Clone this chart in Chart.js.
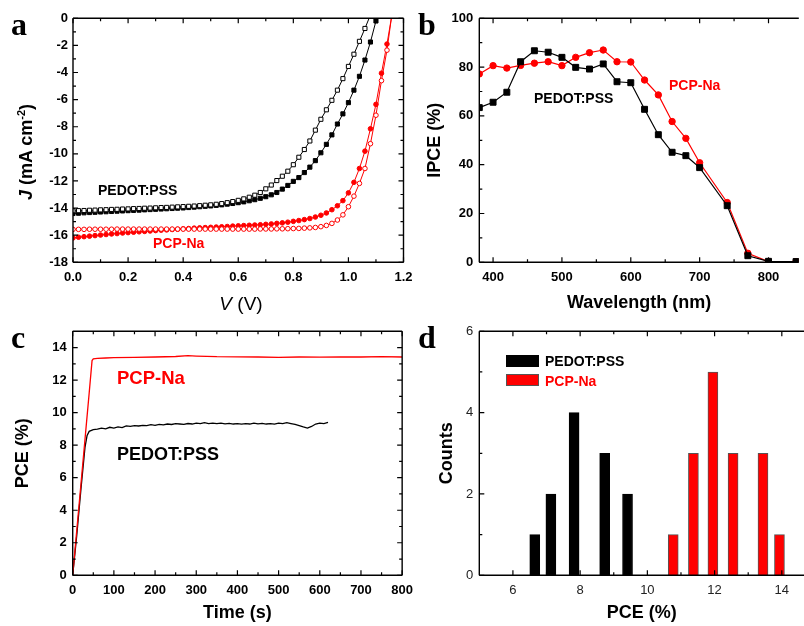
<!DOCTYPE html>
<html><head><meta charset="utf-8">
<script src="https://cdn.jsdelivr.net/npm/chart.js@4.4.1/dist/chart.umd.min.js"></script>
<style>
html,body{margin:0;padding:0;background:#fff;width:804px;height:626px;overflow:hidden;font-family:"Liberation Sans",Arial,sans-serif;}
canvas{position:absolute;}
.t{position:absolute;white-space:nowrap;line-height:1;font-family:"Liberation Sans",Arial,sans-serif;}
.b{font-weight:bold;}
.red{color:#ff0000;}
.letter{position:absolute;font-family:"Liberation Serif","Times New Roman",serif;font-weight:bold;font-size:32px;line-height:1;}
.box{position:absolute;width:33px;height:12px;}
</style></head><body>
<canvas id="ca" width="420" height="313" style="left:0;top:0"></canvas>
<canvas id="cb" width="402" height="313" style="left:402px;top:0"></canvas>
<canvas id="cc" width="420" height="313" style="left:0;top:313px"></canvas>
<canvas id="cd" width="402" height="313" style="left:402px;top:313px"></canvas>

<div class="letter" style="left:11px;top:8px">a</div>
<div class="letter" style="left:418px;top:8px">b</div>
<div class="letter" style="left:11px;top:321px">c</div>
<div class="letter" style="left:418px;top:321px">d</div>

<div class="t b" style="left:98px;top:183px;font-size:14px">PEDOT:PSS</div>
<div class="t b red" style="left:153px;top:236px;font-size:14px">PCP-Na</div>
<div class="t" style="left:241px;top:294px;font-size:19px;transform:translateX(-50%)"><i>V</i> (V)</div>
<div class="t b" style="left:26px;top:152px;font-size:18px;transform:translate(-50%,-50%) rotate(-90deg)"><i>J</i> (mA cm<span style="font-size:11px;position:relative;top:-7px">-2</span>)</div>

<div class="t b" style="left:534px;top:91px;font-size:14px">PEDOT:PSS</div>
<div class="t b red" style="left:669px;top:78px;font-size:14px">PCP-Na</div>

<div class="t b red" style="left:117px;top:369px;font-size:18.5px">PCP-Na</div>
<div class="t b" style="left:117px;top:445px;font-size:18px">PEDOT:PSS</div>

<div class="box" style="left:506px;top:355px;background:#000"></div>
<div class="box" style="left:506px;top:374px;background:#ff0000;box-shadow:inset 0 0 0 1px #555"></div>
<div class="t b" style="left:545px;top:354px;font-size:14px">PEDOT:PSS</div>
<div class="t b red" style="left:545px;top:374px;font-size:14px">PCP-Na</div>

<script>
// ---------- Panel a: J-V curves ----------
const voltage = [0.00,0.02,0.04,0.06,0.08,0.10,0.12,0.14,0.16,0.18,0.20,0.22,0.24,0.26,0.28,0.30,0.32,0.34,0.36,0.38,0.40,0.42,0.44,0.46,0.48,0.50,0.52,0.54,0.56,0.58,0.60,0.62,0.64,0.66,0.68,0.70,0.72,0.74,0.76,0.78,0.80,0.82,0.84,0.86,0.88,0.90,0.92,0.94,0.96,0.98,1.00,1.02,1.04,1.06,1.08,1.10,1.12,1.14,1.16];
const jPedotOpen = [-14.20,-14.19,-14.18,-14.16,-14.15,-14.13,-14.12,-14.10,-14.09,-14.07,-14.06,-14.04,-14.03,-14.01,-14.00,-13.98,-13.96,-13.95,-13.93,-13.91,-13.89,-13.87,-13.85,-13.82,-13.79,-13.76,-13.72,-13.67,-13.60,-13.52,-13.43,-13.32,-13.20,-13.05,-12.85,-12.58,-12.30,-11.97,-11.65,-11.28,-10.80,-10.25,-9.68,-9.05,-8.25,-7.45,-6.75,-6.05,-5.30,-4.45,-3.55,-2.65,-1.70,-0.75,0.25];
const jPedotFilled = [-14.40,-14.38,-14.35,-14.33,-14.31,-14.29,-14.27,-14.25,-14.23,-14.21,-14.19,-14.17,-14.15,-14.13,-14.11,-14.09,-14.07,-14.05,-14.03,-14.01,-13.99,-13.96,-13.93,-13.90,-13.87,-13.84,-13.80,-13.76,-13.71,-13.66,-13.60,-13.54,-13.46,-13.38,-13.28,-13.16,-13.02,-12.85,-12.60,-12.33,-12.03,-11.75,-11.38,-10.98,-10.50,-9.92,-9.30,-8.60,-7.80,-7.05,-6.22,-5.30,-4.28,-3.08,-1.75,-0.20,1.20];
const jPcpFilled = [-16.20,-16.15,-16.11,-16.07,-16.03,-15.99,-15.95,-15.91,-15.88,-15.84,-15.81,-15.78,-15.75,-15.72,-15.69,-15.66,-15.63,-15.61,-15.58,-15.56,-15.53,-15.51,-15.48,-15.46,-15.44,-15.42,-15.40,-15.38,-15.36,-15.33,-15.31,-15.29,-15.27,-15.25,-15.23,-15.20,-15.17,-15.13,-15.09,-15.04,-14.98,-14.92,-14.85,-14.77,-14.66,-14.53,-14.36,-14.12,-13.83,-13.45,-12.88,-12.10,-11.08,-9.80,-8.15,-6.35,-4.05,-1.90,0.50];
const jPcpOpen = [-15.57,-15.57,-15.57,-15.56,-15.56,-15.56,-15.56,-15.56,-15.55,-15.55,-15.55,-15.55,-15.55,-15.55,-15.55,-15.55,-15.55,-15.55,-15.55,-15.55,-15.55,-15.55,-15.55,-15.55,-15.55,-15.55,-15.55,-15.55,-15.55,-15.55,-15.55,-15.55,-15.55,-15.55,-15.54,-15.54,-15.54,-15.53,-15.53,-15.52,-15.51,-15.50,-15.48,-15.46,-15.43,-15.37,-15.28,-15.13,-14.88,-14.50,-13.90,-13.12,-12.18,-11.08,-9.25,-7.15,-4.60,-2.35,0.60];
const aXTicks = [0,0.2,0.4,0.6,0.8,1.0,1.2];
const aXMinor = [0.1,0.3,0.5,0.7,0.9,1.1];
const aYTicks = [-18,-16,-14,-12,-10,-8,-6,-4,-2,0];
const aYMinor = [-17,-15,-13,-11,-9,-7,-5,-3,-1];

// ---------- Panel b: IPCE ----------
const wavelength = [380,400,420,440,460,480,500,520,540,560,580,600,620,640,660,680,700,740,770,800,840];
const ipcePedot = [63.4,65.6,69.7,82.2,86.7,86.1,84.0,79.9,79.2,81.3,74.0,73.6,62.7,52.3,45.1,43.7,38.8,23.2,2.7,0.4,0.3];
const ipcePcp = [77.2,80.6,79.6,80.7,81.6,82.2,80.6,84.0,85.9,87.0,82.2,82.1,74.7,68.6,57.7,50.8,40.8,24.5,3.7,0.3,0.3];
const bXTicks = [400,500,600,700,800];
const bXMinor = [450,550,650,750];
const bYTicks = [0,20,40,60,80,100];
const bYMinor = [10,30,50,70,90];

// ---------- Panel c: PCE vs time ----------
const timePedot = [0,10,20,30,35,40,50,60,70,80,90,100,110,120,130,140,150,160,170,180,190,200,210,220,230,240,250,260,270,280,290,300,310,320,330,340,350,360,370,380,390,400,410,420,430,440,450,460,470,480,490,500,510,520,530,540,550,560,570,580,590,600,610,620];
const pcePedot = [0,2.5,5.3,7.9,8.6,8.85,8.95,8.98,9.05,9.0,9.1,9.05,9.12,9.08,9.18,9.15,9.2,9.18,9.22,9.2,9.26,9.22,9.28,9.25,9.3,9.27,9.32,9.3,9.28,9.33,9.3,9.36,9.32,9.38,9.33,9.36,9.32,9.35,9.31,9.34,9.3,9.33,9.29,9.32,9.3,9.36,9.31,9.34,9.3,9.33,9.29,9.36,9.32,9.38,9.33,9.28,9.2,9.12,9.05,9.15,9.3,9.36,9.33,9.4];
const timePcp = [0,10,20,30,40,47,50,60,80,100,150,200,250,280,300,350,400,450,500,550,600,650,700,750,800];
const pcePcp = [0,2.8,5.6,8.4,11.2,13.2,13.3,13.33,13.36,13.38,13.4,13.42,13.45,13.5,13.48,13.44,13.43,13.42,13.4,13.42,13.41,13.43,13.42,13.44,13.42];
const cXTicks = [0,100,200,300,400,500,600,700,800];
const cXMinor = [50,150,250,350,450,550,650,750];
const cYTicks = [0,2,4,6,8,10,12,14];
const cYMinor = [1,3,5,7,9,11,13];

// ---------- Panel d: histogram ----------
const histPcePedot = [6.65,7.13,7.82,8.73,9.41];
const histCountPedot = [1,2,4,3,2];
const histPcePcp = [10.77,11.37,11.95,12.55,13.44,13.93];
const histCountPcp = [1,3,5,3,3,1];
const dXTicks = [6,8,10,12,14];
const dXMinor = [7,9,11,13];
const dYTicks = [0,2,4,6];
const dYMinor = [1,3,5];

const FAM = "'Liberation Sans', Arial, sans-serif";
const RED = '#ff0000';

const framePlugin = {
  id: 'frame',
  afterDatasetsDraw(chart, args, o) {
    const {ctx, chartArea: {left, right, top, bottom}, scales: {x, y}} = chart;
    ctx.save();
    ctx.strokeStyle = '#000';
    ctx.lineWidth = 1.2;
    ctx.beginPath();
    const seg = (x1, y1, x2, y2) => { ctx.moveTo(x1, y1); ctx.lineTo(x2, y2); };
    const xt = (vals, len) => vals.forEach(v => { const p = x.getPixelForValue(v); seg(p, bottom, p, bottom - len); seg(p, top, p, top + len); });
    const yt = (vals, len) => vals.forEach(v => { const p = y.getPixelForValue(v); seg(left, p, left + len, p); if (o.right) seg(right, p, right - len, p); });
    xt(o.xMajor || [], 5); xt(o.xMinor || [], 3);
    yt(o.yMajor || [], 5); yt(o.yMinor || [], 3);
    ctx.stroke();
    ctx.lineWidth = 1.4;
    ctx.beginPath();
    seg(left, top, right, top); seg(left, top, left, bottom); seg(left, bottom, right, bottom);
    if (o.right) seg(right, top, right, bottom);
    ctx.stroke();
    ctx.restore();
  }
};
Chart.register(framePlugin);

function scale(min, max, major, fmt, isX, fit, pad, font, color) {
  return {
    type: 'linear', min, max, offset: false,
    afterBuildTicks: s => { s.ticks = major.map(v => ({value: v})); },
    afterFit: s => { if (isX) s.height = fit; else s.width = fit; },
    grid: {display: false, drawTicks: false},
    border: {display: false},
    ticks: {font, color, padding: pad, maxRotation: 0, minRotation: 0, autoSkip: false, callback: v => fmt(v)}
  };
}
const boldTick = {family: FAM, size: 13, weight: 'bold'};
const normTick = {family: FAM, size: 13, weight: 'normal'};
function title(text, top, bottom) {
  return {display: true, text, color: '#000', font: {family: FAM, size: 18, weight: 'bold', lineHeight: 1}, padding: {top, bottom}};
}
const base = (padRight, fr) => ({
  responsive: false, animation: false, events: [],
  layout: {padding: {left: 0, top: 18.3, right: padRight, bottom: 0}},
  plugins: {legend: {display: false}, tooltip: {enabled: false}, frame: fr}
});
const pts = (xs, ys) => ys.map((y, i) => ({x: xs[i], y}));

// Panel a
const optA = base(16.5, {xMajor: aXTicks, xMinor: aXMinor, yMajor: aYTicks, yMinor: aYMinor, right: true});
optA.scales = {
  x: scale(0, 1.2, aXTicks, v => v.toFixed(1), true, 50.7, 7, boldTick, '#000'),
  y: scale(-18, 0, aYTicks, v => String(v), false, 73, 5, boldTick, '#000')
};
const lineDs = (label, data, color, style, r, fill) => ({
  label, data, borderColor: color, borderWidth: 1, showLine: true, tension: 0,
  pointStyle: style, pointRadius: r, pointBorderColor: color, pointBackgroundColor: fill, pointBorderWidth: 1
});
new Chart(document.getElementById('ca'), {
  type: 'line',
  data: {datasets: [
    lineDs('PEDOT:PSS (open)', pts(voltage, jPedotOpen), '#000', 'rect', 2.9, '#fff'),
    lineDs('PEDOT:PSS', pts(voltage, jPedotFilled), '#000', 'rect', 2.9, '#000'),
    lineDs('PCP-Na (open)', pts(voltage, jPcpOpen), RED, 'circle', 2.3, '#fff'),
    lineDs('PCP-Na', pts(voltage, jPcpFilled), RED, 'circle', 2.3, RED)
  ]},
  options: optA
});

// Panel b
const optB = base(0, {xMajor: bXTicks, xMinor: bXMinor, yMajor: bYTicks, yMinor: bYMinor, right: false});
optB.scales = {
  x: Object.assign(scale(380, 844, bXTicks, v => String(v), true, 50.7, 7, boldTick, '#000'), {title: title('Wavelength (nm)', 0, 1)}),
  y: Object.assign(scale(0, 100, bYTicks, v => String(v), false, 77.3, 6, boldTick, '#000'), {title: title('IPCE (%)', 24.5, 0)})
};
new Chart(document.getElementById('cb'), {
  type: 'line',
  data: {datasets: [
    Object.assign(lineDs('PEDOT:PSS', pts(wavelength, ipcePedot), '#000', 'rect', 4.2, '#000'), {borderWidth: 1.2}),
    Object.assign(lineDs('PCP-Na', pts(wavelength, ipcePcp), RED, 'circle', 3.2, RED), {borderWidth: 1.2})
  ]},
  options: optB
});

// Panel c
const optC = base(15.7, {xMajor: cXTicks, xMinor: cXMinor, yMajor: cYTicks, yMinor: cYMinor, right: true});
optC.scales = {
  x: Object.assign(scale(0, 800, cXTicks, v => String(v), true, 50.7, 7, boldTick, '#000'), {title: title('Time (s)', 0, 4)}),
  y: Object.assign(scale(0, 15, cYTicks, v => String(v), false, 72.7, 6, boldTick, '#000'), {title: title('PCE (%)', 14.5, 0)})
};
new Chart(document.getElementById('cc'), {
  type: 'line',
  data: {datasets: [
    {label: 'PCP-Na', data: pts(timePcp, pcePcp), borderColor: RED, borderWidth: 1.3, pointRadius: 0, tension: 0},
    {label: 'PEDOT:PSS', data: pts(timePedot, pcePedot), borderColor: '#000', borderWidth: 1.3, pointRadius: 0, tension: 0}
  ]},
  options: optC
});

// Panel d
const optD = base(0, {xMajor: dXTicks, xMinor: dXMinor, yMajor: dYTicks, yMinor: dYMinor, right: false});
optD.scales = {
  x: Object.assign(scale(5, 14.66, dXTicks, v => String(v), true, 50.7, 7, normTick, '#222'), {title: title('PCE (%)', 0, 4)}),
  y: Object.assign(scale(0, 6, dYTicks, v => String(v), false, 77.3, 6, normTick, '#222'), {title: title('Counts', 36.5, 0)})
};
new Chart(document.getElementById('cd'), {
  type: 'bar',
  data: {datasets: [
    {label: 'PEDOT:PSS', data: pts(histPcePedot, histCountPedot), backgroundColor: '#000', borderColor: '#000', borderWidth: 1, barThickness: 10, grouped: false},
    {label: 'PCP-Na', data: pts(histPcePcp, histCountPcp), backgroundColor: RED, borderColor: '#555', borderWidth: 1, barThickness: 10, grouped: false}
  ]},
  options: optD
});
</script>
</body></html>
